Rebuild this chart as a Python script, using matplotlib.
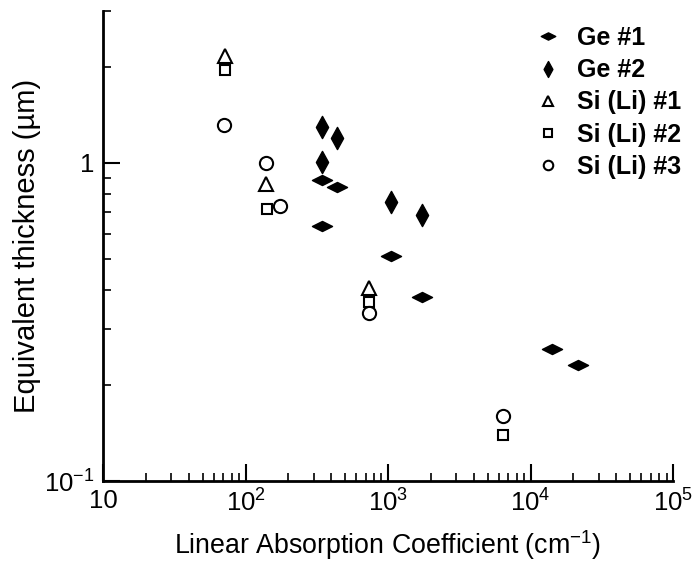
import matplotlib
matplotlib.use("Agg")
import matplotlib.pyplot as plt
from matplotlib.path import Path
import numpy as np

plt.rcParams['font.family'] = ['Liberation Sans', 'DejaVu Sans']
plt.rcParams['mathtext.fontset'] = 'custom'
plt.rcParams['mathtext.rm'] = 'Liberation Sans'
plt.rcParams['mathtext.it'] = 'Liberation Sans:italic'
plt.rcParams['mathtext.bf'] = 'Liberation Sans:bold'

# Data (absorption coefficient cm^-1, equivalent thickness um)
ge1_x = [343, 441, 343, 1045, 1722, 14230, 21600]
ge1_y = [0.884, 0.842, 0.634, 0.510, 0.380, 0.261, 0.232]
ge2_x = [343, 437, 343, 1045, 1742]
ge2_y = [1.30, 1.20, 1.005, 0.752, 0.686]
si1_x = [72, 139, 736]
si1_y = [2.17, 0.857, 0.404]
si2_x = [72, 141, 736, 6440]
si2_y = [1.96, 0.717, 0.366, 0.140]
si3_x = [71, 139, 175, 736, 6440]
si3_y = [1.32, 1.00, 0.732, 0.338, 0.160]

x_ticks = [10, 100, 1000, 10000, 100000]
x_ticklabels = ['10', r'$\mathregular{10^2}$', r'$\mathregular{10^3}$',
                r'$\mathregular{10^4}$', r'$\mathregular{10^5}$']
y_ticks = [0.1, 1]
y_ticklabels = [r'$\mathregular{10^{-1}}$', '1']

hdiamond = Path([(-1, 0), (0, 0.5), (1, 0), (0, -0.5), (-1, 0)],
                [Path.MOVETO, Path.LINETO, Path.LINETO, Path.LINETO, Path.CLOSEPOLY])
vdiamond = Path([(0, -1), (0.55, 0), (0, 1), (-0.55, 0), (0, -1)],
                [Path.MOVETO, Path.LINETO, Path.LINETO, Path.LINETO, Path.CLOSEPOLY])

fig = plt.figure(figsize=(6.96, 5.62), dpi=100)
ax = fig.add_axes([0.148, 0.144, 0.819, 0.836])
ax.set_xscale('log')
ax.set_yscale('log')

ax.plot(ge1_x, ge1_y, linestyle='none', marker=hdiamond, markersize=14.5,
        color='black', label='Ge #1')
ax.plot(ge2_x, ge2_y, linestyle='none', marker=vdiamond, markersize=16,
        color='black', label='Ge #2')
ax.plot(si1_x, si1_y, linestyle='none', marker='^', markersize=9.5,
        markerfacecolor='white', markeredgecolor='black', markeredgewidth=1.5,
        label='Si (Li) #1')
ax.plot(si2_x, si2_y, linestyle='none', marker='s', markersize=7.5,
        markerfacecolor='white', markeredgecolor='black', markeredgewidth=1.5,
        label='Si (Li) #2')
ax.plot(si3_x, si3_y, linestyle='none', marker='o', markersize=9.5,
        markerfacecolor='white', markeredgecolor='black', markeredgewidth=1.5,
        label='Si (Li) #3')

ax.set_xlim(10, 1e5)
ax.set_ylim(0.1, 3.0)
for s in ['top', 'right']:
    ax.spines[s].set_visible(False)
for s in ['left', 'bottom']:
    ax.spines[s].set_linewidth(2.0)

ax.set_xticks(x_ticks)
ax.set_xticklabels(x_ticklabels)
ax.set_yticks(y_ticks)
ax.set_yticklabels(y_ticklabels)
ax.xaxis.set_minor_locator(matplotlib.ticker.LogLocator(base=10, subs=np.arange(2, 10)))
ax.yaxis.set_minor_locator(matplotlib.ticker.LogLocator(base=10, subs=np.arange(2, 10)))
ax.xaxis.set_minor_formatter(matplotlib.ticker.NullFormatter())
ax.yaxis.set_minor_formatter(matplotlib.ticker.NullFormatter())
ax.tick_params(which='major', direction='in', length=12, width=1.5, labelsize=18.5, pad=6)
ax.tick_params(which='minor', direction='in', length=6, width=1.2)

ax.set_xlabel(r'Linear Absorption Coefficient (cm$\mathregular{^{-1}}$)', fontsize=19.3, labelpad=8)
ax.set_ylabel('Equivalent thickness (µm)', fontsize=21, labelpad=2)

leg = fig.legend(loc='upper left', frameon=False, prop={'size': 18, 'weight': 'bold'},
                 handletextpad=0.75, labelspacing=0.33, borderaxespad=0.0, borderpad=0.0,
                 handlelength=0.8, markerscale=0.72,
                 bbox_to_anchor=(538 / 696, 1 - 26 / 562))

fig.savefig('out.png', dpi=100)
